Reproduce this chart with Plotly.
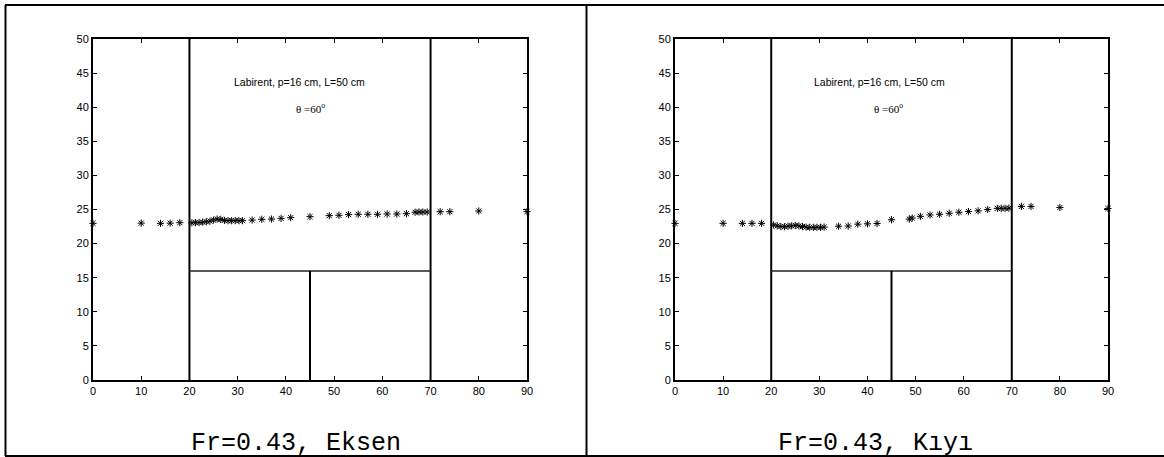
import plotly.graph_objects as go

# ---- data ----
x_eksen = [0, 10, 14, 16, 18,
           20.5, 21.25, 22, 22.75, 23.5, 24.25, 25, 25.75, 26.5, 27.25, 28, 28.75, 29.5, 30.25, 31,
           33, 35, 37, 39, 41, 45,
           49, 51, 53, 55, 57, 59, 61, 63, 65,
           66.8, 67.6, 68.4, 69.3, 72, 74, 80, 90]
y_eksen = [22.97, 23.0, 22.97, 23.0, 23.07,
           23.05, 23.07, 23.1, 23.15, 23.2, 23.3, 23.45, 23.6, 23.55, 23.4, 23.36, 23.36, 23.36, 23.36, 23.36,
           23.45, 23.56, 23.6, 23.7, 23.8, 23.95,
           24.1, 24.15, 24.25, 24.3, 24.3, 24.3, 24.34, 24.34, 24.39,
           24.6, 24.63, 24.63, 24.63, 24.68, 24.68, 24.78, 24.68]

x_kiyi = [0, 10, 14, 16, 18,
          20.5, 21.25, 22, 22.75, 23.5, 24.25, 25, 25.75, 26.5, 27.25, 28, 28.75, 29.5, 30.25, 31,
          34, 36, 38, 40, 42, 45,
          48.7, 49.3, 51, 53, 55, 57, 59, 61, 63, 65,
          67, 67.8, 68.6, 69.4, 72, 74, 80, 90]
y_kiyi = [22.97, 22.97, 22.97, 22.97, 22.97,
          22.73, 22.6, 22.5, 22.48, 22.55, 22.6, 22.65, 22.6, 22.5, 22.42, 22.39, 22.39, 22.39, 22.39, 22.42,
          22.55, 22.58, 22.85, 22.9, 22.95, 23.5,
          23.6, 23.75, 24.0, 24.2, 24.3, 24.45, 24.6, 24.7, 24.8, 25.0,
          25.17, 25.17, 25.17, 25.2, 25.45, 25.45, 25.3, 25.15]

x_ticks = [0, 10, 20, 30, 40, 50, 60, 70, 80, 90]
y_ticks = [0, 5, 10, 15, 20, 25, 30, 35, 40, 45, 50]

wall_x = [20, 70]        # side walls
crest_height = 16        # labyrinth height p
apex_x = 45              # middle wall
label_text = "Labirent, p=16 cm, L=50 cm"
angle_text = "θ =60<sup>o</sup>"
captions = ["Fr=0.43, Eksen", "Fr=0.43, Kıyı"]

W, H = 1164, 457
fig = go.Figure()

panels = [
    ("x", "y", x_eksen, y_eksen, (93, 527), (42.9, 45.2)),
    ("x2", "y2", x_kiyi, y_kiyi, (675, 1108), (42.6, 44.3)),
]
ydom = [1 - 380 / H, 1 - 39 / H]
axis_font = dict(family="Arial, Liberation Sans", size=11, color="black")

for i, (xa, ya, xs, ys, (px0, px1), (tx1, tx2)) in enumerate(panels):
    fig.add_trace(go.Scatter(
        x=xs, y=ys, xaxis=xa, yaxis=ya, mode="markers", cliponaxis=False,
        marker=dict(symbol="asterisk-open", size=6, color="black",
                    line=dict(color="black", width=1)),
        showlegend=False, hoverinfo="x+y"))
    suffix = "" if i == 0 else "2"
    common = dict(showline=True, linecolor="black", linewidth=2, mirror="allticks",
                  ticks="inside", ticklen=4, tickwidth=1, tickcolor="black",
                  showgrid=False, zeroline=False, tickfont=axis_font)
    fig.update_layout(**{
        "xaxis" + suffix: dict(domain=[px0 / W, px1 / W], range=[0, 90], tickvals=x_ticks,
                               anchor=ya, **common),
        "yaxis" + suffix: dict(domain=ydom, range=[0, 50], tickvals=y_ticks,
                               anchor=xa, **common),
    })
    for wx in wall_x:
        fig.add_shape(type="line", xref=xa, yref=ya, x0=wx, x1=wx, y0=0, y1=50,
                      line=dict(color="black", width=2))
    fig.add_shape(type="line", xref=xa, yref=ya, x0=wall_x[0], x1=wall_x[1],
                  y0=crest_height, y1=crest_height, line=dict(color="#222", width=1.5))
    fig.add_shape(type="line", xref=xa, yref=ya, x0=apex_x, x1=apex_x, y0=0, y1=crest_height,
                  line=dict(color="black", width=2))
    fig.add_annotation(x=tx1, y=43.7, xref=xa, yref=ya, text=label_text, showarrow=False,
                       xanchor="center", yanchor="middle",
                       font=dict(family="Arial, Liberation Sans", size=10.5, color="black"))
    fig.add_annotation(x=tx2, y=39.9, xref=xa, yref=ya, text=angle_text, showarrow=False,
                       xanchor="center", yanchor="middle",
                       font=dict(family="Times New Roman, Liberation Serif", size=11, color="black"))
    cx = (5 + 586) / 2 if i == 0 else (586 + 1164) / 2
    fig.add_annotation(x=cx / W, y=1 - 443 / H, xref="paper", yref="paper", text=captions[i],
                       showarrow=False, xanchor="center", yanchor="middle",
                       font=dict(family="Courier New, Liberation Mono", size=25, color="black"))

# table frame
frame = dict(color="black", width=2)
fig.add_shape(type="line", xref="paper", yref="paper", x0=5 / W, x1=1, y0=1 - 5 / H, y1=1 - 5 / H, line=frame)
fig.add_shape(type="line", xref="paper", yref="paper", x0=5 / W, x1=1, y0=1 - 456 / H, y1=1 - 456 / H, line=frame)
fig.add_shape(type="line", xref="paper", yref="paper", x0=5.5 / W, x1=5.5 / W, y0=1 - 456 / H, y1=1 - 5 / H, line=frame)
fig.add_shape(type="line", xref="paper", yref="paper", x0=586.5 / W, x1=586.5 / W, y0=1 - 456 / H, y1=1 - 5 / H, line=frame)

fig.update_layout(template="none", width=W, height=H, margin=dict(l=0, r=0, t=0, b=0),
                  plot_bgcolor="white", paper_bgcolor="white",
                  font=dict(family="Arial, Liberation Sans", color="black"))
fig.write_html("out.html", config={"displayModeBar": False},
               post_script="document.body.style.margin='0';document.body.style.overflow='hidden';")
